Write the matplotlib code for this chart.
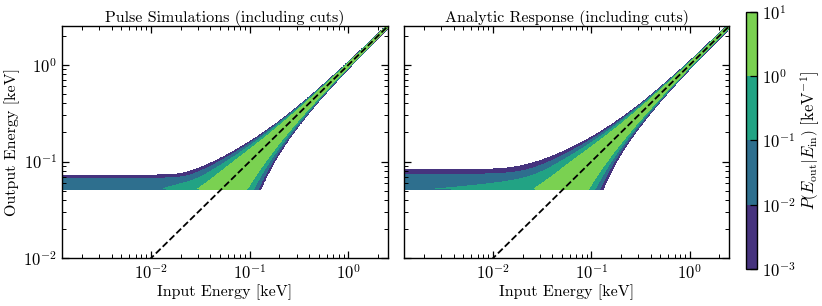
import math

import matplotlib

matplotlib.use("Agg")
import matplotlib.pyplot as plt
import numpy as np

OUTPUT_FILE = "out.png"

# Panel titles and shared contour levels (P(E_out | E_in) in keV^-1).
PANEL_TITLES = ["Pulse Simulations (including cuts)", "Analytic Response (including cuts)"]
LEVELS = [1e-3, 1e-2, 1e-1, 1e0, 1e1]
LEVEL_LABELS = [r"$10^{-3}$", r"$10^{-2}$", r"$10^{-1}$", r"$10^{0}$", r"$10^{1}$"]
LEVEL_COLORS = ["#46337e", "#2e6f8e", "#22a384", "#7ad151"]

# Detector response parameters, one entry per panel.
THRESHOLD_KEV = [0.052, 0.052]
RESOLUTION_LOW_KEV = [0.018, 0.018]
RESOLUTION_HIGH_KEV = [0.014, 0.018]
RESOLUTION_SLOPE = [0.008, 0.012]
NOISE_PEAK_KEV = [0.055, 0.056]
NOISE_WIDTH_KEV = [0.0065, 0.009]
NOISE_DENSITY = [0.055, 0.06]
CUT_EFF_FLOOR = [0.09, 0.09]
CUT_EFF_HALF_KEV = [0.08, 0.08]
CUT_EFF_SLOPE = [3.0, 3.0]
DENSITY_FLOOR = [1.5e-3, 0.0]  # finite statistics in the simulation

X_LIMITS = [1.25e-3, 2.5]
Y_LIMITS = [1e-2, 2.5]

_erf = np.vectorize(math.erf)


def response(e_in, e_out, i):
    """Probability density of the reconstructed energy for panel i."""
    eff = CUT_EFF_FLOOR[i] + (1 - CUT_EFF_FLOOR[i]) / (
        1 + (CUT_EFF_HALF_KEV[i] / e_in) ** CUT_EFF_SLOPE[i]
    )
    s_lo = np.hypot(RESOLUTION_LOW_KEV[i], RESOLUTION_SLOPE[i] * e_in)
    s_hi = np.hypot(RESOLUTION_HIGH_KEV[i], RESOLUTION_SLOPE[i] * e_in)
    sigma = np.where(e_out >= e_in, s_hi, s_lo)
    norm = 2.0 / (math.sqrt(2 * math.pi) * (s_lo + s_hi))
    signal = eff * norm * np.exp(-0.5 * ((e_out - e_in) / sigma) ** 2)

    # Noise triggers only win when the true pulse sits below them.
    below = 0.5 * (1 + _erf((e_out - e_in) / (s_lo * math.sqrt(2))))
    noise = NOISE_DENSITY[i] * np.exp(
        -0.5 * ((e_out - NOISE_PEAK_KEV[i]) / NOISE_WIDTH_KEV[i]) ** 2
    ) * below

    density = signal + noise
    density[e_out < THRESHOLD_KEV[i]] = 0.0
    density[density < DENSITY_FLOOR[i]] = 0.0
    return np.minimum(density, 9.9)


def main() -> None:
    plt.rcParams["font.family"] = "serif"
    plt.rcParams["font.serif"] = ["cmr10", "DejaVu Serif"]
    plt.rcParams["mathtext.fontset"] = "cm"
    plt.rcParams["axes.formatter.use_mathtext"] = True
    plt.rcParams["axes.unicode_minus"] = False

    e_in_grid = np.logspace(-3, 0.5, 500)
    e_out_grid = np.logspace(-2, 0.5, 500)
    e_in, e_out = np.meshgrid(e_in_grid, e_out_grid)

    fig = plt.figure(figsize=(8.22, 3.06), dpi=100)
    ax_left = fig.add_axes([0.0751, 0.156, 0.3966, 0.758])
    ax_right = fig.add_axes([0.4915, 0.156, 0.3954, 0.758])
    cax = fig.add_axes([0.9075, 0.121, 0.0134, 0.84])

    cs = None
    for i, ax in enumerate([ax_left, ax_right]):
        density = response(e_in, e_out, i)
        cs = ax.contourf(e_in_grid, e_out_grid, density, levels=LEVELS, colors=LEVEL_COLORS)
        ax.plot(e_in_grid, e_in_grid, color="black", linestyle="--", linewidth=1.3)

        ax.set_xscale("log")
        ax.set_yscale("log")
        ax.set_xlim(*X_LIMITS)
        ax.set_ylim(*Y_LIMITS)
        ax.set_title(PANEL_TITLES[i], fontsize=11.5, pad=3)
        ax.set_xlabel("Input Energy [keV]", fontsize=11.5, labelpad=2)
        ax.tick_params(which="both", direction="in", top=True, right=True, labelsize=12)
        ax.tick_params(which="major", length=5, width=0.9)
        ax.tick_params(which="minor", length=2.8, width=0.7)
        for spine in ax.spines.values():
            spine.set_linewidth(1.0)

    ax_left.set_ylabel("Output Energy [keV]", fontsize=11.5, labelpad=2)
    ax_right.tick_params(labelleft=False)

    cbar = fig.colorbar(cs, cax=cax)
    cbar.set_ticks(LEVELS, labels=LEVEL_LABELS)
    cbar.ax.tick_params(direction="in", length=5, width=0.9, labelsize=12)
    cbar.outline.set_linewidth(1.0)
    cbar.set_label(
        r"$P\left(E_\mathrm{out}|E_\mathrm{in}\right)\ [\mathrm{keV}^{-1}]$",
        fontsize=12,
        labelpad=2,
    )

    fig.savefig(OUTPUT_FILE, dpi=100)


if __name__ == "__main__":
    main()
